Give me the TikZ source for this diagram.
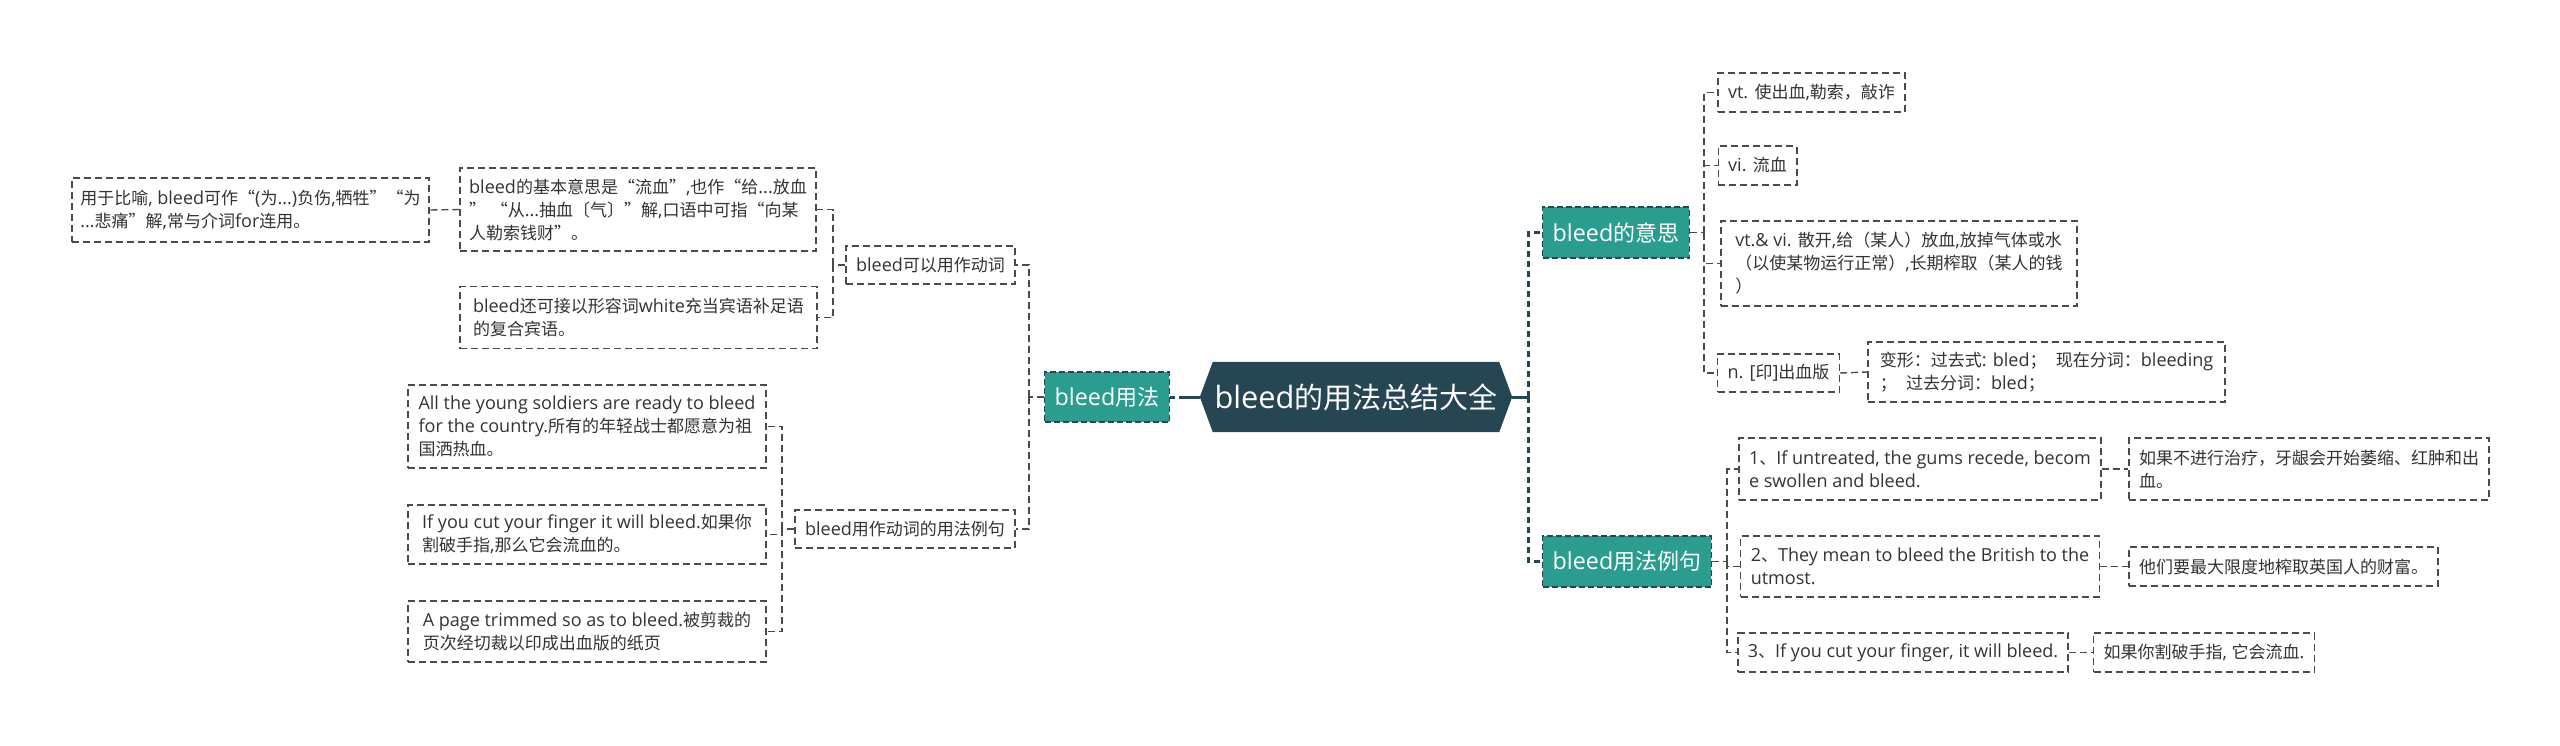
\documentclass[tikz,border=0pt]{standalone}
\usepackage{fontspec}
\setmainfont[Scale=1.06]{Open Sans}
\newfontfamily\latf[Scale=1.06]{Open Sans}
\newfontfamily\cjkf{Noto Sans CJK SC}
\XeTeXinterchartokenstate=1
\newXeTeXintercharclass\cjkcls
\newcount\cjkcc
\cjkcc="2E80 \loop \XeTeXcharclass\cjkcc=\cjkcls \advance\cjkcc by 1 \ifnum\cjkcc<"A000 \repeat
\cjkcc="FF00 \loop \XeTeXcharclass\cjkcc=\cjkcls \advance\cjkcc by 1 \ifnum\cjkcc<"FFF0 \repeat
\XeTeXcharclass"201C=\cjkcls
\XeTeXcharclass"201D=\cjkcls
\XeTeXinterchartoks 0 \cjkcls = {\cjkf}
\XeTeXinterchartoks 4095 \cjkcls = {\cjkf}
\XeTeXinterchartoks \cjkcls 0 = {\latf}
\XeTeXinterchartoks \cjkcls 4095 = {\latf}
\usetikzlibrary{backgrounds}
\definecolor{darkc}{HTML}{264653}
\definecolor{tealc}{HTML}{2A9D8F}
\definecolor{txtc}{HTML}{333333}
\definecolor{linec}{HTML}{4A4A4A}
\begin{document}
\begin{tikzpicture}[x=1pt,y=-1pt,
  sz/.style 2 args={minimum width=#1,minimum height=#2},
  leaf/.style={draw=linec, line width=1.4pt, dash pattern=on 7pt off 4pt, fill=white, text=txtc, align=left, inner xsep=10pt, inner ysep=5pt, font=\fontsize{17}{23}\selectfont},
  topic/.style={draw=darkc, line width=1.6pt, dash pattern=on 6pt off 3pt, fill=tealc, text=white, inner xsep=10pt, font=\fontsize{22}{26}\selectfont},
  rootnode/.style={text=white, font=\fontsize{29}{34}\selectfont, inner sep=0pt},
  lone/.style={draw=darkc, line width=3pt, dash pattern=on 6pt off 4pt},
  lonesolid/.style={draw=darkc, line width=3pt},
  ltwo/.style={draw=linec, line width=1.4pt, dash pattern=on 7pt off 4pt},
]
\useasboundingbox (0,0) rectangle (2560,745);

% root
\node[rootnode, sz={312}{70}] (root) at (1356,397) {bleed的用法总结大全};
\begin{scope}[on background layer]
\fill[white] (0,0) rectangle (2560,745);
\fill[darkc] (root.west) -- ([xshift=13pt]root.north west) -- ([xshift=-13pt]root.north east) -- (root.east) -- ([xshift=-13pt]root.south east) -- ([xshift=13pt]root.south west) -- cycle;
\end{scope}

% level 1
\node[topic, sz={124}{50}] (usage) at (1107,397) {bleed用法};
\node[topic, sz={146}{51}] (mean) at (1616,232.5) {bleed的意思};
\node[topic, sz={168}{51}] (exm) at (1627,561.5) {bleed用法例句};

% left branch
\node[leaf, sz={165}{38}] (verb) at (930.5,265) {bleed可以用作动词};
\node[leaf, sz={216}{38}] (exs) at (905,529) {bleed用作动词的用法例句};
\node[leaf, sz={356}{83}, inner xsep=8pt] (basic) at (638,209.5) {bleed的基本意思是“流血”,也作“给...放血\\” “从...抽血〔气〕”解,口语中可指“向某\\人勒索钱财”。};
\node[leaf, sz={357}{62}] (white) at (638.5,317.5) {bleed还可接以形容词white充当宾语补足语\\的复合宾语。};
\node[leaf, sz={357}{64}, inner xsep=7pt] (fig) at (250.5,210) {用于比喻, bleed可作“(为...)负伤,牺牲”“为\\...悲痛”解,常与介词for连用。};
\node[leaf, sz={358}{83}] (exa) at (587,426.5) {All the young soldiers are ready to bleed\\for the country.所有的年轻战士都愿意为祖\\国洒热血。};
\node[leaf, sz={358}{59}] (exb) at (587,534.5) {If you cut your finger it will bleed.如果你\\割破手指,那么它会流血的。};
\node[leaf, sz={358}{61}] (exc) at (587,631.5) {A page trimmed so as to bleed.被剪裁的\\页次经切裁以印成出血版的纸页};

% right branch: meanings
\node[leaf, sz={181}{39}] (vt) at (1811.5,92.5) {vt. 使出血,勒索，敲诈};
\node[leaf, sz={73}{39}] (vi) at (1757.5,165.5) {vi. 流血};
\node[leaf, sz={356}{85}] (vtvi) at (1899,263.5) {vt.\& vi. 散开,给（某人）放血,放掉气体或水\\（以使某物运行正常）,长期榨取（某人的钱\\）};
\node[leaf, sz={115}{38}] (nn) at (1778.5,373) {n. [印]出血版};
\node[leaf, sz={357}{60}] (var) at (2046.5,372) {变形：过去式: bled；\ \ 现在分词：bleeding\\；\ \ 过去分词：bled；};

% right branch: examples
\node[leaf, sz={356}{62}] (sa) at (1920,469) {1、If untreated, the gums recede, becom\\e swollen and bleed.};
\node[leaf, sz={356}{62}] (ta) at (2309,469) {如果不进行治疗，牙龈会开始萎缩、红肿和出\\血。};
\node[leaf, sz={356}{61}] (sb) at (1920,566.5) {2、They mean to bleed the British to the\\utmost.};
\node[leaf, sz={305}{39}] (tb) at (2283.5,566.5) {他们要最大限度地榨取英国人的财富。};
\node[leaf, sz={322}{39}] (sc) at (1903,652.5) {3、If you cut your finger, it will bleed.};
\node[leaf, sz={216}{39}] (tc) at (2204,652.5) {如果你割破手指, 它会流血.};

% junctions
\coordinate (jR) at (1528,397);
\coordinate (jL) at (1185,397);
\coordinate (jU) at (1029,397);
\coordinate (jV) at (833,265);
\coordinate (jE) at (782,529);
\coordinate (jM) at (1704,232.5);
\coordinate (jX) at (1727,561.5);

% root connectors
\draw[lonesolid] (root.east) -- (jR);
\draw[lone] (jR) |- (mean.west);
\draw[lone] (jR) |- (exm.west);
\draw[lonesolid] (root.west) -- (jL);
\draw[lone] (jL) -- (usage.east);

% left connectors
\draw[ltwo] (usage.west) -- (jU);
\draw[ltwo] (jU) |- (verb.east);
\draw[ltwo] (jU) |- (exs.east);
\draw[ltwo] (verb.west) -- (jV);
\draw[ltwo] (jV) |- (basic.east);
\draw[ltwo] (jV) |- (white.east);
\draw[ltwo] (basic.west) -- (fig.east);
\draw[ltwo] (exs.west) -- (jE);
\draw[ltwo] (jE) |- (exa.east);
\draw[ltwo] (jE) |- (exb.east);
\draw[ltwo] (jE) |- (exc.east);

% right connectors
\draw[ltwo] (mean.east) -- (jM);
\draw[ltwo] (jM) |- (vt.west);
\draw[ltwo] (jM) |- (vi.west);
\draw[ltwo] (jM) |- (vtvi.west);
\draw[ltwo] (jM) |- (nn.west);
\draw[ltwo] (nn.east) -- (var.west);
\draw[ltwo] (exm.east) -- (jX);
\draw[ltwo] (jX) |- (sa.west);
\draw[ltwo] (jX) |- (sb.west);
\draw[ltwo] (jX) |- (sc.west);
\draw[ltwo] (sa.east) -- (ta.west);
\draw[ltwo] (sb.east) -- (tb.west);
\draw[ltwo] (sc.east) -- (tc.west);
\end{tikzpicture}
\end{document}
